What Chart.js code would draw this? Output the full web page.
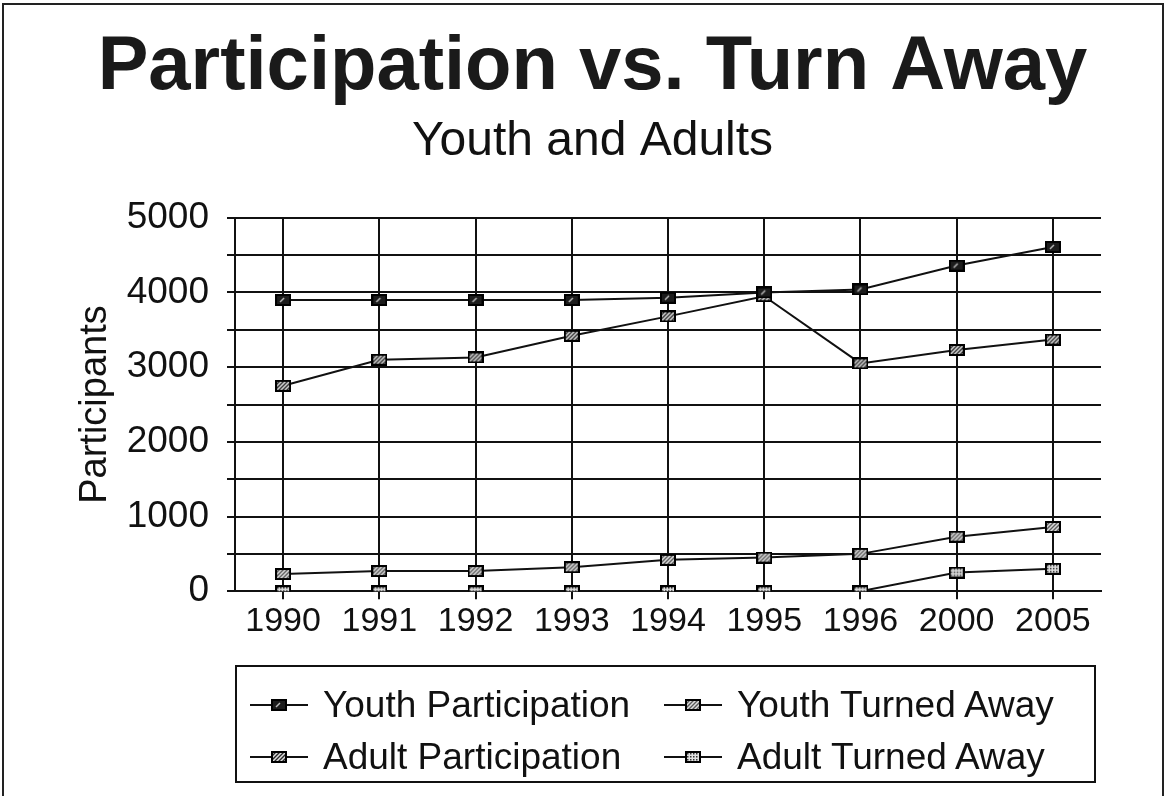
<!DOCTYPE html>
<html>
<head>
<meta charset="utf-8">
<script src="https://cdn.jsdelivr.net/npm/chart.js@4/dist/chart.umd.min.js"></script>
<style>
body{margin:0;background:#fff;}
#wrap{position:relative;width:1167px;height:796px;overflow:hidden;}
#frame{position:absolute;left:2px;top:3px;width:1158px;height:800px;border-left:2px solid #222;border-top:2px solid #222;border-right:2px solid #222;}
#mychart{position:absolute;left:0;top:0;}
#legend{position:absolute;left:235px;top:665px;width:857px;height:114px;border:2px solid #111;
  font-family:"Liberation Sans",Arial,sans-serif;font-size:37px;color:#111;}
.item{position:absolute;display:flex;align-items:center;height:44px;white-space:nowrap;}
.mk{position:relative;width:58px;height:20px;margin-right:15px;}
.mk .ln{position:absolute;left:0;top:9px;width:58px;height:2px;background:#111;}
.mk canvas{position:absolute;left:21px;top:4px;}
</style>
</head>
<body>
<div id="wrap">
  <div id="frame"></div>
  <canvas id="mychart" width="1167" height="796"></canvas>
  <div id="legend"></div>
</div>
<script>
const years = ['1990','1991','1992','1993','1994','1995','1996','2000','2005'];
const youthParticipation = [3900,3900,3900,3900,3930,4000,4040,4360,4610];
const adultParticipation = [2750,3100,3130,3420,3680,3950,3050,3230,3370];
const youthTurnedAway = [230,270,270,320,420,450,500,730,860];
const adultTurnedAway = [0,0,0,0,0,0,0,250,300];
const seriesNames = ['Youth Participation','Youth Turned Away','Adult Participation','Adult Turned Away'];

// little hatched rectangle markers, like the old printout
function marker(fill, ink, kind){
  const c = document.createElement('canvas');
  c.width = 16; c.height = 12;
  const g = c.getContext('2d');
  g.fillStyle = fill; g.fillRect(0,0,16,12);
  g.strokeStyle = ink; g.lineWidth = 1.5;
  if(kind==='hatch'){
    for(let i=-12;i<16;i+=4){ g.beginPath(); g.moveTo(i,12); g.lineTo(i+12,0); g.stroke(); }
  } else if(kind==='dots'){
    g.fillStyle = ink;
    for(let x=2;x<16;x+=3) for(let y=2;y<12;y+=3) g.fillRect(x,y,1.5,1.5);
  } else {
    g.beginPath(); g.moveTo(5,8); g.lineTo(9,4); g.stroke();
  }
  g.strokeStyle = '#000'; g.lineWidth = 2; g.strokeRect(1,1,14,10);
  return c;
}
const markerDefs = [
  ['#1c1c1c','#bbb','solid'],
  ['#5a5a5a','#ddd','hatch'],
  ['#2a2a2a','#ddd','hatch'],
  ['#e0e0e0','#333','dots']
];
const seriesData = [youthParticipation, youthTurnedAway, adultParticipation, adultTurnedAway];

const FONT = '"Liberation Sans", Arial, sans-serif';
const chart = document.getElementById('mychart').getContext('2d');
let partChart = new Chart(chart, {
  type: 'line',
  data: {
    labels: years,
    datasets: seriesData.map((d,i)=>({
      label: seriesNames[i],
      data: d,
      borderColor: '#111',
      borderWidth: 2,
      tension: 0,
      pointStyle: marker(...markerDefs[i]),
      pointRadius: 8,
    }))
  },
  options: {
    responsive: false,
    animation: false,
    layout: { padding: { left: 84, right: 66, bottom: 152, top: 0 } },
    plugins: {
      legend: { display: false },
      tooltip: { enabled: false },
      title: {
        display: true,
        text: 'Participation vs. Turn Away',
        color: '#1a1a1a',
        font: { family: FONT, size: 76, weight: 'bold' },
        padding: { top: 22, bottom: 0 }
      },
      subtitle: {
        display: true,
        text: 'Youth and Adults',
        color: '#111',
        font: { family: FONT, size: 48 },
        padding: { top: 0, bottom: 47 }
      }
    },
    scales: {
      y: {
        min: 0, max: 5000,
        afterFit: s => { s.width = 151; },
        ticks: {
          stepSize: 500,
          autoSkip: false,
          color: '#111',
          font: { family: FONT, size: 37 },
          padding: 18,
          callback: v => v % 1000 === 0 ? v : ''
        },
        grid: { color: '#111', lineWidth: 2, tickLength: 8 },
        border: { color: '#111', width: 2 },
        title: {
          display: true,
          text: 'Participants',
          color: '#111',
          font: { family: FONT, size: 38 },
          padding: { top: -11, bottom: 4 }
        }
      },
      x: {
        offset: true,
        ticks: { color: '#111', font: { family: FONT, size: 34 }, padding: 2, maxRotation: 0, autoSkip: false },
        grid: { offset: false, color: '#111', lineWidth: 2, tickLength: 8 },
        border: { color: '#111', width: 2 }
      }
    }
  }
});

// legend in two columns, built from the same series
const legend = document.getElementById('legend');
const spots = [[13,16],[427,16],[13,68],[427,68]];
seriesNames.forEach((name,i)=>{
  const it = document.createElement('div');
  it.className = 'item';
  it.style.left = spots[i][0]+'px';
  it.style.top = spots[i][1]+'px';
  const mk = document.createElement('div');
  mk.className = 'mk';
  const ln = document.createElement('div'); ln.className = 'ln';
  mk.appendChild(ln);
  mk.appendChild(marker(...markerDefs[i]));
  it.appendChild(mk);
  const t = document.createElement('span'); t.textContent = name;
  it.appendChild(t);
  legend.appendChild(it);
});
</script>
</body>
</html>
